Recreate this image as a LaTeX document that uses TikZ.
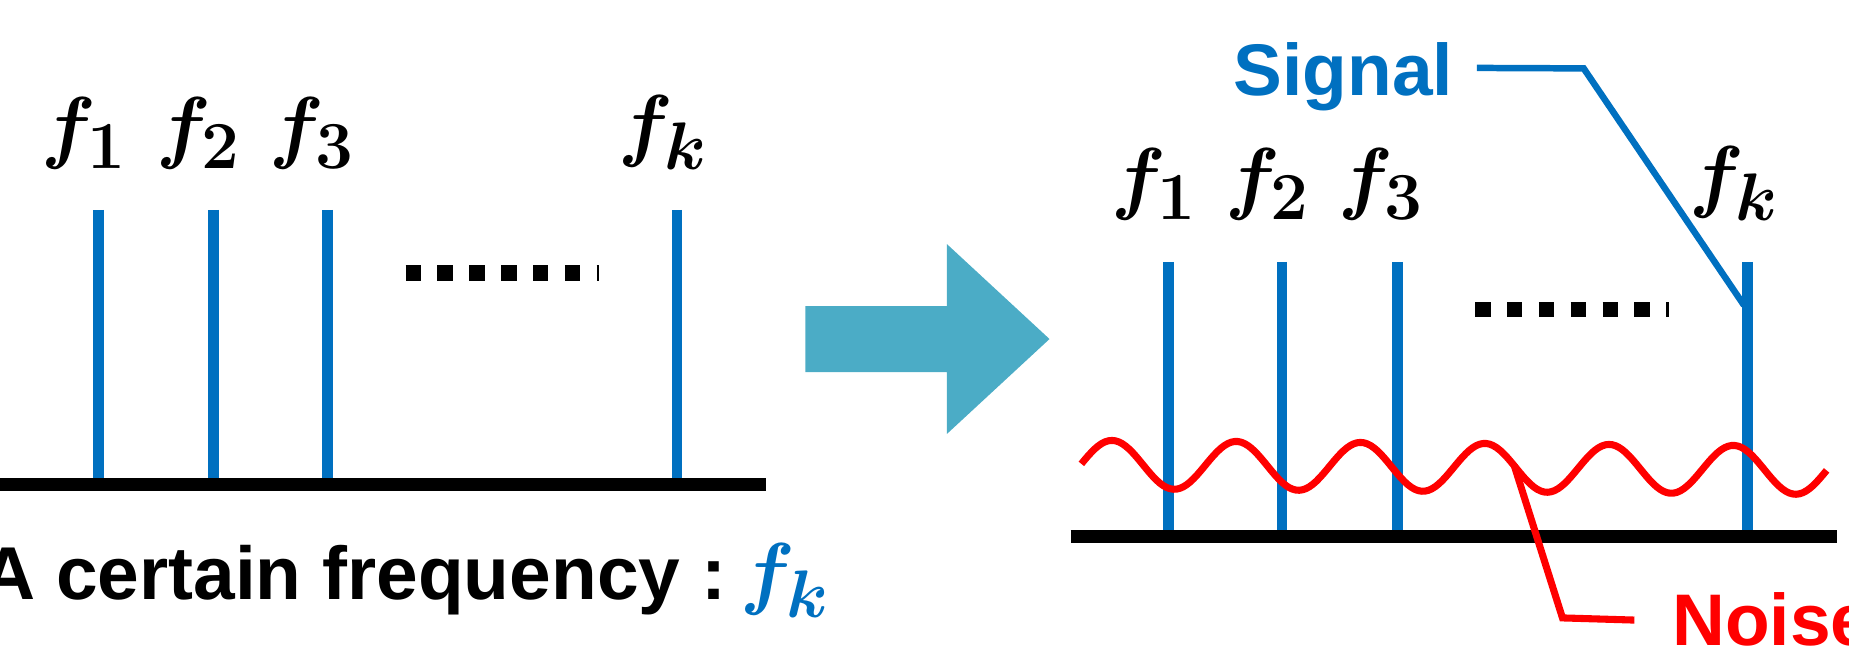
\documentclass[tikz,border=0pt]{standalone}
\usepackage{fontspec}
\newfontfamily\arial{Liberation Sans}
\definecolor{sigblue}{HTML}{0070C0}
\definecolor{noisered}{HTML}{FF0000}
\definecolor{arrowteal}{HTML}{4BACC6}
\newcommand{\bigf}[1]{\scalebox{2.75}{\fontsize{24.88}{30}\selectfont\boldmath$f_{#1}$}}
\tikzset{
  bigtxt/.style={font=\arial\bfseries\fontsize{62}{70}\selectfont, inner sep=0pt},
  captxt/.style={font=\arial\bfseries\fontsize{63.5}{70}\selectfont, inner sep=0pt},
  flabel/.style={inner sep=0pt, anchor=south},
  axisline/.style={line width=10.5pt, black},
  spike/.style={line width=9pt, sigblue},
  dotrow/.style={line width=13pt, black, dash pattern=on 13pt off 14pt},
  sigline/.style={line width=5.5pt, sigblue, line join=miter},
  noiseline/.style={line width=6pt, noisered, line join=round},
  bigarrow/.style={fill=arrowteal, draw=none},
}
\begin{document}
\begin{tikzpicture}[x=1pt,y=-1pt]
\useasboundingbox (0,0) rectangle (1568,548);

% ---------- big arrow ----------
\fill[bigarrow] (683,259.5) -- (803,259.5) -- (803,207) -- (890,287.5) -- (803,368) -- (803,315.5) -- (683,315.5) -- cycle;

% ---------- left panel ----------
\coordinate (L1t) at (83.5,178);  \coordinate (L1b) at (83.5,411);
\coordinate (L2t) at (181,178);   \coordinate (L2b) at (181,411);
\coordinate (L3t) at (277.5,178); \coordinate (L3b) at (277.5,411);
\coordinate (Lkt) at (574,178);   \coordinate (Lkb) at (574,411);
\draw[spike] (L1t) -- (L1b);
\draw[spike] (L2t) -- (L2b);
\draw[spike] (L3t) -- (L3b);
\draw[spike] (Lkt) -- (Lkb);
\coordinate (axL0) at (0,411); \coordinate (axL1) at (650,411);
\draw[axisline] (axL0) -- (axL1);
\coordinate (dL0) at (344,231.5); \coordinate (dL1) at (508,231.5);
\draw[dotrow] (dL0) -- (dL1);
\node[flabel] (lf1) at (71.5,144) {\bigf{1}};
\node[flabel] (lf2) at (168.5,144) {\bigf{2}};
\node[flabel] (lf3) at (265,144) {\bigf{3}};
\node[flabel] (lfk) at (562.5,144) {\bigf{k}};
\node[captxt, anchor=base west] (caption) at (-16,508) {A certain frequency :\kern12pt\textcolor{sigblue}{\bigf{k}}};

% ---------- right panel ----------
\coordinate (R1t) at (991,222);  \coordinate (R1b) at (991,455);
\coordinate (R2t) at (1087,222); \coordinate (R2b) at (1087,455);
\coordinate (R3t) at (1185,222); \coordinate (R3b) at (1185,455);
\coordinate (Rkt) at (1482,222); \coordinate (Rkb) at (1482,455);
\draw[spike] (R1t) -- (R1b);
\draw[spike] (R2t) -- (R2b);
\draw[spike] (R3t) -- (R3b);
\draw[spike] (Rkt) -- (Rkb);
\coordinate (axR0) at (908,455); \coordinate (axR1) at (1558,455);
\draw[axisline] (axR0) -- (axR1);
\coordinate (dR0) at (1251,262.5); \coordinate (dR1) at (1415,262.5);
\draw[dotrow] (dR0) -- (dR1);
\node[flabel] (rf1) at (978.5,187) {\bigf{1}};
\node[flabel] (rf2) at (1075,187) {\bigf{2}};
\node[flabel] (rf3) at (1171.5,187) {\bigf{3}};
\node[flabel] (rfk) at (1470.5,187) {\bigf{k}};

% noise wave
\draw[noiseline] plot[domain=917:1549, samples=220] (\x,{394 + 0.008*(\x-943) - 20.5*cos(3.4156*(\x-943))});

% labels with leaders
\node[bigtxt, text=sigblue, anchor=base west] (signal) at (1046,80.6) {Signal};
\node[bigtxt, text=noisered, anchor=base west] (noise) at (1418,547) {Noise};
\coordinate (sigbend) at (1343,58);
\coordinate (sigtip) at (1479,259);
\draw[sigline] ([xshift=20pt,yshift=23pt]signal.base east) -- (sigbend) -- (sigtip);
\coordinate (noisetip) at (1284,394.5);
\coordinate (noisebend) at (1325,524);
\draw[noiseline, line join=miter] (noisetip) -- (noisebend) -- ([xshift=-32pt,yshift=-1pt]noise.west);
\end{tikzpicture}
\end{document}
